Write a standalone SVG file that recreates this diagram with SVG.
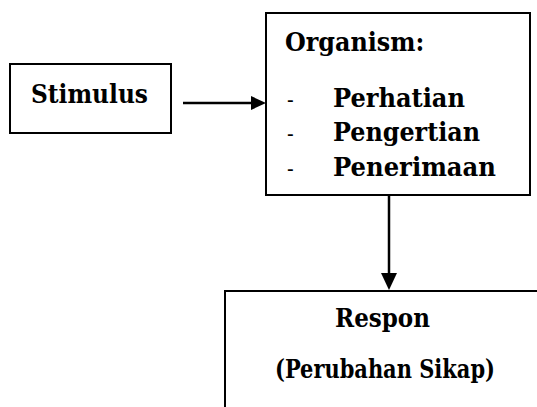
<svg xmlns="http://www.w3.org/2000/svg" width="537" height="407" viewBox="0 0 537 407">
<style>
.box{fill:#fff;stroke:#000;stroke-width:2}
.t{font-family:"DejaVu Serif","Liberation Serif",serif;font-stretch:condensed;font-weight:bold;font-size:26.5px;fill:#000}
.d{font-family:"DejaVu Serif","Liberation Serif",serif;font-stretch:condensed;font-weight:normal;font-size:22px;fill:#000}
.c{stroke:#000;stroke-width:2.5;fill:none}
</style>
<rect width="537" height="407" fill="#fff"/>
<g id="stimulus">
<rect class="box" x="10" y="64" width="161" height="69" stroke-width="1.6"/>
<text class="t" x="31" y="103" textLength="117" lengthAdjust="spacingAndGlyphs">Stimulus</text>
</g>
<g id="organism">
<rect class="box" x="266" y="13" width="264" height="182"/>
<text class="t" x="285" y="51">Organism:</text>
<text class="d" x="287" y="107">-</text>
<text class="t" x="333" y="107" textLength="132" lengthAdjust="spacingAndGlyphs">Perhatian</text>
<text class="d" x="287" y="141">-</text>
<text class="t" x="333" y="141" textLength="147" lengthAdjust="spacingAndGlyphs">Pengertian</text>
<text class="d" x="287" y="176">-</text>
<text class="t" x="333" y="176" textLength="163" lengthAdjust="spacingAndGlyphs">Penerimaan</text>
</g>
<g id="respon">
<path class="box" d="M225,408 L225,291 L538,291" fill="none"/>
<text class="t" x="335" y="327" textLength="95" lengthAdjust="spacingAndGlyphs">Respon</text>
<text class="t" x="275" y="378" textLength="220" lengthAdjust="spacingAndGlyphs">(Perubahan Sikap)</text>
</g>
<g id="connectors">
<path class="c" d="M183,103 L252,103"/>
<path d="M251,96 L266,103 L251,110 Z" fill="#000"/>
<path class="c" d="M389,195 L389,275"/>
<path d="M381,273 L389,290 L397,273 Z" fill="#000"/>
</g>
</svg>
